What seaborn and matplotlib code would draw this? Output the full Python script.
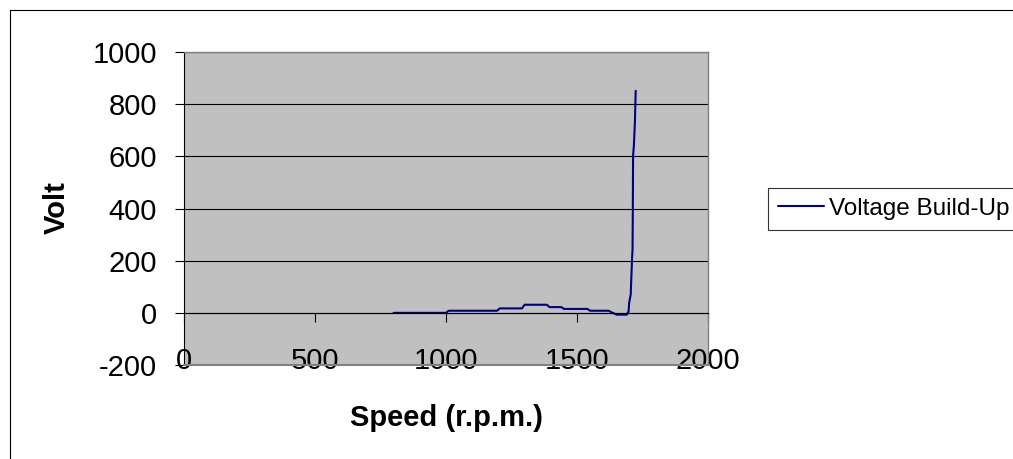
import matplotlib
matplotlib.use("Agg")
import matplotlib.pyplot as plt
from matplotlib.lines import Line2D
import seaborn as sns
import pandas as pd

# ---- data ----
speed_rpm = [800, 1000, 1010, 1195, 1205, 1290, 1300, 1385, 1395, 1440, 1450,
             1540, 1550, 1620, 1632, 1645, 1652, 1690, 1697, 1699, 1705, 1710,
             1712, 1713, 1714, 1717, 1721, 1724]
volt = [0, 0, 8, 8, 17, 17, 31, 31, 22, 22, 15,
        15, 8, 8, 2, -4, -7, -7, 6, 38, 70, 205,
        243, 384, 602, 640, 730, 851]
series_name = "Voltage Build-Up"
x_ticks = [0, 500, 1000, 1500, 2000]
y_ticks = [-200, 0, 200, 400, 600, 800, 1000]
x_label = "Speed (r.p.m.)"
y_label = "Volt"

df = pd.DataFrame({"speed": speed_rpm, "volt": volt, "series": series_name})

sns.set_theme(style="white")
plt.rcParams["font.family"] = ["Liberation Sans", "DejaVu Sans"]
plt.rcParams["text.color"] = "black"
plt.rcParams["xtick.color"] = "black"
plt.rcParams["ytick.color"] = "black"
plt.rcParams["axes.labelcolor"] = "black"

W, H = 1013, 459
fig = plt.figure(figsize=(W / 100, H / 100), dpi=100)
ax = fig.add_axes([184 / W, 1 - 365 / H, (708 - 184) / W, (365 - 52) / H])
ax.set_facecolor("#C0C0C0")

sns.lineplot(data=df, x="speed", y="volt", hue="series", palette=["#000080"],
             sort=False, estimator=None, linewidth=1.5, ax=ax)

ax.set_xlim(0, 2000)
ax.set_ylim(-200, 1000)
ax.set_xticks(x_ticks)
ax.set_yticks(y_ticks)
ax.set_xticklabels([str(v) for v in x_ticks])
ax.set_yticklabels([str(v) for v in y_ticks])

ax.yaxis.grid(True, color="black", linewidth=0.8)
ax.xaxis.grid(False)
ax.set_axisbelow(True)

for s in ["top", "right"]:
    ax.spines[s].set_color("#808080")
    ax.spines[s].set_linewidth(1.0)
ax.spines["left"].set_color("black")
ax.spines["left"].set_linewidth(0.8)
ax.spines["bottom"].set_position(("data", 0))
ax.spines["bottom"].set_color("black")
ax.spines["bottom"].set_linewidth(0.8)
ax.axhline(-200, color="#808080", linewidth=1.5, clip_on=False, zorder=3)

ax.tick_params(axis="x", direction="out", length=6.5, width=0.8, color="black",
               labelcolor="black", labelsize=21, pad=18, bottom=True)
ax.tick_params(axis="y", direction="out", length=6.5, width=0.8, color="black",
               labelcolor="black", labelsize=21, pad=13, left=True)

ax.set_xlabel("")
ax.set_ylabel("")
fig.text(446 / W, 1 - 418 / H, x_label, ha="center", va="center",
         fontsize=21, fontweight="bold", color="black")
fig.text(57 / W, 1 - 208 / H, y_label, ha="center", va="center",
         fontsize=21, fontweight="bold", rotation=90, color="black")

ax.legend_.remove()
handle = Line2D([0], [0], color="#000080", linewidth=1.5)
leg = fig.legend([handle], [series_name], loc="center left",
                 bbox_to_anchor=(768 / W, 1 - 209 / H), fontsize=17.5,
                 frameon=True, fancybox=False, shadow=False,
                 borderpad=0.4, handlelength=1.9, handletextpad=0.2,
                 borderaxespad=0, labelcolor="black")
leg.get_frame().set_edgecolor("black")
leg.get_frame().set_linewidth(0.8)
leg.get_frame().set_facecolor("white")

# outer chart border (left and top edges visible in the reference)
fig.add_artist(Line2D([10 / W, 10 / W], [0, 1 - 10 / H], color="black",
                      linewidth=0.8, transform=fig.transFigure))
fig.add_artist(Line2D([10 / W, 1], [1 - 10 / H, 1 - 10 / H], color="black",
                      linewidth=0.8, transform=fig.transFigure))

fig.savefig("out.png", dpi=100)
